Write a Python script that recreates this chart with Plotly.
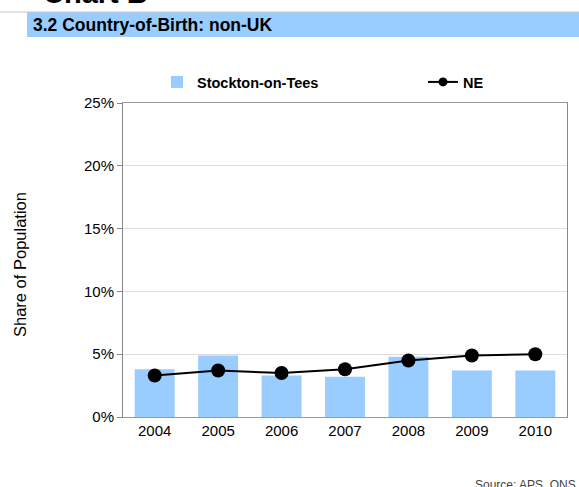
import plotly.graph_objects as go

years = ["2004", "2005", "2006", "2007", "2008", "2009", "2010"]
stockton = [3.8, 4.9, 3.3, 3.2, 4.8, 3.7, 3.7]
ne = [3.3, 3.7, 3.5, 3.8, 4.5, 4.9, 5.0]
y_ticks = [0, 5, 10, 15, 20, 25]
y_tick_text = [f"{t}%" for t in y_ticks]

W, H = 579, 487
ml, mr, mt, mb = 123, 12, 103, 70
pw, ph = W - ml - mr, H - mt - mb


def px_x(x):
    # page pixel -> paper x
    return (x - ml) / pw


def px_y(y):
    # page pixel -> paper y
    return 1 - (y - mt) / ph


FONT = "Liberation Sans, Arial"

fig = go.Figure()
fig.add_trace(go.Bar(
    x=years, y=stockton, name="Stockton-on-Tees",
    marker=dict(color="#99CCFF", line_width=0),
    legend="legend",
))
fig.add_trace(go.Scatter(
    x=years, y=ne, name="NE", mode="lines+markers",
    line=dict(color="black", width=2),
    marker=dict(color="black", size=14),
    showlegend=False,
))
# legend entry only (smaller marker as in the original)
fig.add_trace(go.Scatter(
    x=[None], y=[None], name="NE", mode="lines+markers",
    line=dict(color="black", width=2),
    marker=dict(color="black", size=9),
    legend="legend2",
))

legend_common = dict(
    orientation="h", xanchor="left", yanchor="middle",
    y=px_y(82), bgcolor="rgba(0,0,0,0)", itemwidth=30,
    font=dict(size=14.5, family=FONT, weight="bold", color="black"),
)

fig.update_layout(
    width=W, height=H,
    margin=dict(l=ml, r=mr, t=mt, b=mb),
    paper_bgcolor="white", plot_bgcolor="white",
    font=dict(family=FONT, size=15, color="black"),
    bargap=0.37,
    showlegend=True,
    legend=dict(x=px_x(157), **legend_common),
    legend2=dict(x=px_x(423), **legend_common),
)

fig.update_xaxes(
    showline=True, linecolor="#999999", linewidth=1, mirror=True,
    ticks="", showgrid=False, tickfont=dict(size=15),
)
fig.update_yaxes(
    range=[0, 25], tickvals=y_ticks, ticktext=y_tick_text,
    showline=True, linecolor="#888888", linewidth=1, mirror=True,
    ticks="outside", ticklen=5, tickcolor="#888888",
    showgrid=True, gridcolor="#DDDDDD", gridwidth=1,
    zeroline=False, tickfont=dict(size=15),
)

fig.add_annotation(text="Share of Population", xref="paper", yref="paper",
                   x=px_x(20), y=px_y(265), textangle=-90,
                   xanchor="center", yanchor="middle", showarrow=False,
                   font=dict(size=16.5, family=FONT, color="black"))

# header band
fig.add_shape(type="rect", xref="paper", yref="paper",
              x0=px_x(27), x1=px_x(W + 2), y0=px_y(37), y1=px_y(12),
              fillcolor="#99CCFF", line_width=0, layer="below")
fig.add_shape(type="line", xref="paper", yref="paper",
              x0=px_x(-2), x1=px_x(W + 2), y0=px_y(12), y1=px_y(12),
              line=dict(color="#C8C8C8", width=1))
fig.add_annotation(text="<b>3.2 Country-of-Birth: non-UK</b>", xref="paper", yref="paper",
                   x=px_x(31), y=px_y(25), xanchor="left", yanchor="middle",
                   showarrow=False,
                   font=dict(size=17.5, family=FONT, color="black"))
fig.add_annotation(text="<b>Chart B</b>", xref="paper", yref="paper",
                   x=px_x(41), y=px_y(11), xanchor="left", yanchor="bottom",
                   showarrow=False,
                   font=dict(size=29, family=FONT, color="black"))
fig.add_annotation(text="Source: APS, ONS", xref="paper", yref="paper",
                   x=px_x(578), y=px_y(485), xanchor="right", yanchor="middle",
                   showarrow=False,
                   font=dict(size=12, family=FONT, color="#444444"))

fig.write_html("out.html", config={"displayModeBar": False},
               post_script="document.body.style.margin='0';")
